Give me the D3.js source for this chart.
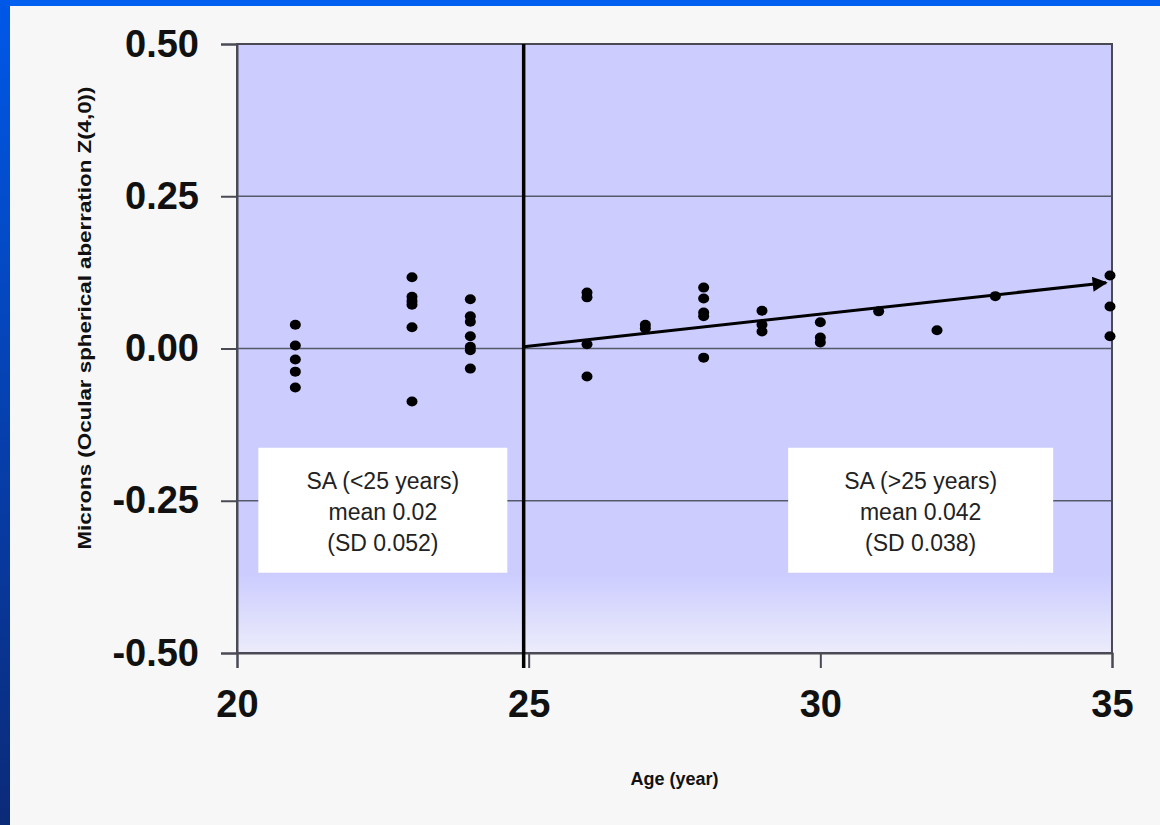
<!DOCTYPE html>
<html>
<head>
<meta charset="utf-8">
<script src="https://cdn.jsdelivr.net/npm/d3@7"></script>
<style>
  html, body { margin: 0; padding: 0; background: #f7f7f7; }
  svg { display: block; }
</style>
</head>
<body>
<div id="chart"></div>
<script>
// scatter of spherical aberration vs age

const ages = [21, 21, 21, 21, 21,
    23, 23, 23, 23, 23, 23,
    24, 24, 24, 24, 24, 24, 24,
    26, 26, 26, 26,
    27, 27,
    28, 28, 28, 28, 28,
    29, 29, 29,
    30, 30, 30,
    31, 32, 33,
    35, 35, 35];
const saValues = [0.039, 0.005, -0.018, -0.038, -0.064,
    0.117, 0.085, 0.078, 0.072, 0.035, -0.087,
    0.081, 0.053, 0.044, 0.020, 0.003, -0.003, -0.033,
    0.092, 0.084, 0.007, -0.046,
    0.039, 0.033,
    0.100, 0.082, 0.059, 0.053, -0.015,
    0.062, 0.039, 0.028,
    0.043, 0.018, 0.010,
    0.061, 0.030, 0.086,
    0.120, 0.069, 0.020];

const xTicks = [20, 25, 30, 35];
const yTicks = [-0.5, -0.25, 0, 0.25, 0.5];
const trendAge = [25, 34.9];
const trendSA = [0.003, 0.108];

const boxTexts = [
    { age: 22.5, w: 249, lines: ["SA (<25 years)", "mean 0.02", "(SD 0.052)"] },
    { age: 31.72, w: 265, lines: ["SA (>25 years)", "mean 0.042", "(SD 0.038)"] }
];

const width = 1160, height = 825;

const svg = d3.select("#chart")
    .append("svg")
    .attr("width", width)
    .attr("height", height)
    .attr("font-family", "'Liberation Sans', Arial, sans-serif");

const defs = svg.append("defs");

const blueSide = defs.append("linearGradient")
    .attr("id", "blueSide")
    .attr("x1", 0).attr("y1", 0).attr("x2", 0).attr("y2", 1);
blueSide.append("stop").attr("offset", "0%").attr("stop-color", "#0058e8");
blueSide.append("stop").attr("offset", "100%").attr("stop-color", "#0b2a78");

const plotFill = defs.append("linearGradient")
    .attr("id", "plotFill")
    .attr("x1", 0).attr("y1", 0).attr("x2", 0).attr("y2", 1);
plotFill.append("stop").attr("offset", "0%").attr("stop-color", "#ccccff");
plotFill.append("stop").attr("offset", "87%").attr("stop-color", "#ccccff");
plotFill.append("stop").attr("offset", "100%").attr("stop-color", "#ececfb");

defs.append("marker")
    .attr("id", "arrow")
    .attr("viewBox", "0 0 10 10")
    .attr("refX", 9).attr("refY", 5)
    .attr("markerWidth", 6).attr("markerHeight", 5)
    .attr("markerUnits", "strokeWidth")
    .attr("orient", "auto")
    .append("path")
    .attr("d", "M0,0L10,5L0,10z")
    .attr("fill", "#000");

// blue slide frame
svg.append("rect").attr("x", 0).attr("y", 0).attr("width", width).attr("height", 6).attr("fill", "#0060f0");
svg.append("rect").attr("x", 0).attr("y", 0).attr("width", 10).attr("height", height).attr("fill", "url(#blueSide)");

const x = d3.scaleLinear().domain([20, 35]).range([237, 1112]);
const y = d3.scaleLinear().domain([-0.5, 0.5]).range([653, 44]);

const g = svg.append("g");

g.append("rect")
    .attr("x", x(20)).attr("y", y(0.5))
    .attr("width", x(35) - x(20))
    .attr("height", y(-0.5) - y(0.5))
    .attr("fill", "url(#plotFill)");

// gridlines
g.append("g")
    .selectAll("line")
    .data(yTicks.filter(d => d > -0.5 && d < 0.5))
    .join("line")
    .attr("x1", x(20)).attr("x2", x(35))
    .attr("y1", y).attr("y2", y)
    .attr("stroke", "#555a6a")
    .attr("stroke-width", 1.5);

// frame
g.append("rect")
    .attr("x", x(20)).attr("y", y(0.5))
    .attr("width", x(35) - x(20))
    .attr("height", y(-0.5) - y(0.5))
    .attr("fill", "none")
    .attr("stroke", "#4a4a55")
    .attr("stroke-width", 2);

// y axis (hyphen minus like the original)
const fmtY = d => d3.format(".2f")(d).replace("−", "-");
const yAxis = g.append("g")
    .attr("transform", `translate(${x(20)},0)`)
    .call(d3.axisLeft(y).tickValues(yTicks).tickSize(16).tickPadding(22).tickFormat(fmtY));
yAxis.select(".domain").attr("stroke", "#4a4a55").attr("stroke-width", 2);
yAxis.selectAll(".tick line").attr("stroke", "#4a4a55").attr("stroke-width", 2);
yAxis.selectAll(".tick text")
    .attr("font-size", 38)
    .attr("font-weight", "bold")
    .attr("font-family", "'Liberation Sans', Arial, sans-serif")
    .attr("fill", "#111");

// x axis
const xAxis = g.append("g")
    .attr("transform", `translate(0,${y(-0.5)})`)
    .call(d3.axisBottom(x).tickValues(xTicks).tickSize(15).tickPadding(22).tickFormat(d3.format("d")));
xAxis.select(".domain").attr("stroke", "#4a4a55").attr("stroke-width", 2);
xAxis.selectAll(".tick line").attr("stroke", "#4a4a55").attr("stroke-width", 2);
xAxis.selectAll(".tick text")
    .attr("font-size", 38)
    .attr("font-weight", "bold")
    .attr("font-family", "'Liberation Sans', Arial, sans-serif")
    .attr("fill", "#111");

// age 25 divider
g.append("line")
    .attr("x1", x(25) - 5).attr("x2", x(25) - 5)
    .attr("y1", y(0.5)).attr("y2", y(-0.5) + 15)
    .attr("stroke", "#000")
    .attr("stroke-width", 3.5);

// annotation boxes
const box = g.append("g")
    .selectAll("g")
    .data(boxTexts)
    .join("g")
    .attr("transform", d => `translate(${x(d.age)},${y(-0.25)})`);

box.append("rect")
    .attr("x", d => -d.w / 2)
    .attr("y", -53)
    .attr("width", d => d.w)
    .attr("height", 125)
    .attr("fill", "#fff");

box.selectAll("text")
    .data(d => d.lines)
    .join("text")
    .attr("text-anchor", "middle")
    .attr("y", (d, i) => -12 + i * 31)
    .attr("font-size", 23)
    .attr("fill", "#222")
    .text(d => d);

// trend arrow
g.append("line")
    .attr("x1", x(trendAge[0]) - 5).attr("y1", y(trendSA[0]))
    .attr("x2", x(trendAge[1])).attr("y2", y(trendSA[1]))
    .attr("stroke", "#000")
    .attr("stroke-width", 3)
    .attr("marker-end", "url(#arrow)");

// points
g.append("g")
    .selectAll("ellipse")
    .data(ages.map((a, i) => [a, saValues[i]]))
    .join("ellipse")
    .attr("cx", d => x(d[0]) - (d[0] === 35 ? 2 : 0))
    .attr("cy", d => y(d[1]))
    .attr("rx", 5.5)
    .attr("ry", 5)
    .attr("fill", "#000");

// axis titles
svg.append("text")
    .attr("x", x(27.5))
    .attr("y", 785)
    .attr("text-anchor", "middle")
    .attr("font-size", 18)
    .attr("font-weight", "bold")
    .attr("fill", "#111")
    .text("Age (year)");

svg.append("text")
    .attr("transform", "translate(91,318)rotate(-90)")
    .attr("text-anchor", "middle")
    .attr("font-size", 19)
    .attr("font-weight", "bold")
    .attr("fill", "#111")
    .attr("textLength", 463)
    .attr("lengthAdjust", "spacingAndGlyphs")
    .text("Microns (Ocular spherical aberration Z(4,0))");
</script>
</body>
</html>
